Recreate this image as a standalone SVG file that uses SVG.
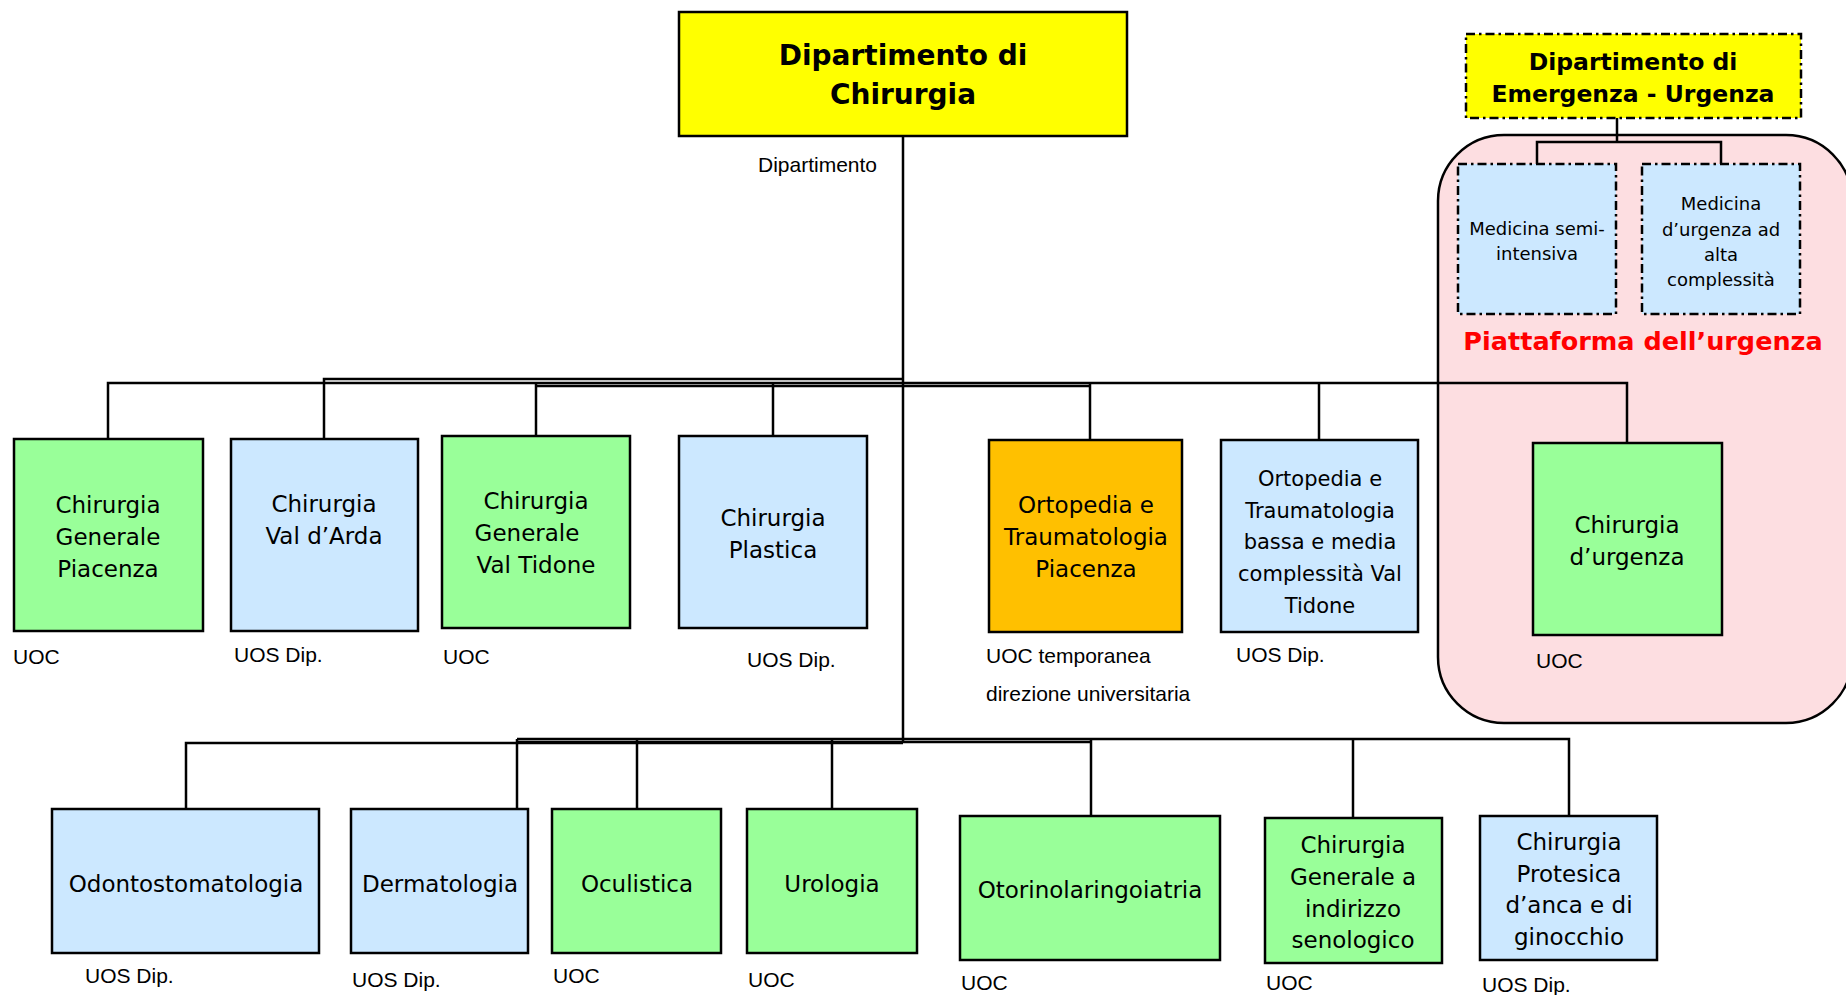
<svg xmlns="http://www.w3.org/2000/svg" width="1846" height="995" viewBox="0 0 1846 995">
<style>
.box{stroke:#000;stroke-width:2.5}
.g{fill:#99FF99}.b{fill:#CCE8FF}.o{fill:#FFC000}.y{fill:#FFFF00}
.dd{stroke-dasharray:9,4,2.5,4}
.t{font-family:"DejaVu Sans",Verdana,sans-serif;font-size:23px;text-anchor:middle;fill:#000}
.s{font-size:21px}
.m{font-size:18px}
.tb{font-family:"DejaVu Sans",Verdana,sans-serif;font-weight:bold;text-anchor:middle;fill:#000}
.lbl{font-family:"Liberation Sans",Arial,sans-serif;font-size:21px;fill:#000}
.con{fill:none;stroke:#000;stroke-width:2.5}
</style>
<rect id="piattaforma-bg" x="1438" y="135" width="414" height="588" rx="66" ry="66" fill="#FDDEE1" stroke="#000" stroke-width="2.5"/>
<g id="connectors" class="con">
<path d="M903,136 V743"/>
<path d="M903,379 H324 V439"/>
<path d="M108,439 V383 H1627 V443"/>
<path d="M536,386 H1090"/>
<path d="M536,383 V436"/>
<path d="M773,383 V436"/>
<path d="M1090,383 V440"/>
<path d="M1319,383 V440"/>
<path d="M186,809 V743 H903"/>
<path d="M517,739 H1569 V816"/>
<path d="M517,742 H1091"/>
<path d="M517,739 V809"/>
<path d="M637,739 V809"/>
<path d="M832,739 V809"/>
<path d="M1091,739 V816"/>
<path d="M1353,739 V818"/>
<path d="M1617,118 V142 M1537,164 V142 H1721 V164"/>
</g>
<g id="dip-chirurgia">
<rect class="box y" x="679" y="12" width="448" height="124"/>
<text class="tb" x="903" y="65" font-size="28">Dipartimento di</text>
<text class="tb" x="903" y="104" font-size="28">Chirurgia</text>
<text class="lbl" x="758" y="172">Dipartimento</text>
</g>
<g id="dip-emergenza">
<rect class="box y dd" x="1466" y="34" width="335" height="84"/>
<text class="tb" x="1633" y="70" font-size="23.5">Dipartimento di</text>
<text class="tb" x="1633" y="102" font-size="23.5">Emergenza - Urgenza</text>
</g>
<g id="med-semi">
<rect class="box b dd" x="1458" y="164" width="158" height="150"/>
<text class="t m" x="1537" y="235">Medicina semi-</text>
<text class="t m" x="1537" y="260">intensiva</text>
</g>
<g id="med-urgenza">
<rect class="box b dd" x="1642" y="164" width="158" height="150"/>
<text class="t m" x="1721" y="210">Medicina</text>
<text class="t m" x="1721" y="236">d’urgenza ad</text>
<text class="t m" x="1721" y="261">alta</text>
<text class="t m" x="1721" y="286">complessità</text>
</g>
<text id="piattaforma-label" class="tb" x="1643" y="350" font-size="25.5" fill="#FF0000" style="fill:#FF0000">Piattaforma dell’urgenza</text>
<g id="cg-piacenza">
<rect class="box g" x="14" y="439" width="189" height="192"/>
<text class="t" x="108" y="513">Chirurgia</text>
<text class="t" x="108" y="545">Generale</text>
<text class="t" x="108" y="577">Piacenza</text>
<text class="lbl" x="13" y="664">UOC</text>
</g>
<g id="c-valdarda">
<rect class="box b" x="231" y="439" width="187" height="192"/>
<text class="t" x="324" y="512">Chirurgia</text>
<text class="t" x="324" y="544">Val d’Arda</text>
<text class="lbl" x="234" y="662">UOS Dip.</text>
</g>
<g id="cg-valtidone">
<rect class="box g" x="442" y="436" width="188" height="192"/>
<text class="t" x="536" y="509">Chirurgia</text>
<text class="t" x="527" y="541">Generale</text>
<text class="t" x="536" y="573">Val Tidone</text>
<text class="lbl" x="443" y="664">UOC</text>
</g>
<g id="c-plastica">
<rect class="box b" x="679" y="436" width="188" height="192"/>
<text class="t" x="773" y="526">Chirurgia</text>
<text class="t" x="773" y="558">Plastica</text>
<text class="lbl" x="747" y="667">UOS Dip.</text>
</g>
<g id="ortopedia-piacenza">
<rect class="box o" x="989" y="440" width="193" height="192"/>
<text class="t" x="1086" y="513">Ortopedia e</text>
<text class="t" x="1086" y="545">Traumatologia</text>
<text class="t" x="1086" y="577">Piacenza</text>
<text class="lbl" x="986" y="663">UOC temporanea</text>
<text class="lbl" x="986" y="701">direzione universitaria</text>
</g>
<g id="ortopedia-valtidone">
<rect class="box b" x="1221" y="440" width="197" height="192"/>
<text class="t s" x="1320" y="486">Ortopedia e</text>
<text class="t s" x="1320" y="518">Traumatologia</text>
<text class="t s" x="1320" y="549">bassa e media</text>
<text class="t s" x="1320" y="581">complessità Val</text>
<text class="t s" x="1320" y="613">Tidone</text>
<text class="lbl" x="1236" y="662">UOS Dip.</text>
</g>
<g id="c-urgenza">
<rect class="box g" x="1533" y="443" width="189" height="192"/>
<text class="t" x="1627" y="533">Chirurgia</text>
<text class="t" x="1627" y="565">d’urgenza</text>
<text class="lbl" x="1536" y="668">UOC</text>
</g>
<g id="odontostomatologia">
<rect class="box b" x="52" y="809" width="267" height="144"/>
<text class="t" x="186" y="892">Odontostomatologia</text>
<text class="lbl" x="85" y="983">UOS Dip.</text>
</g>
<g id="dermatologia">
<rect class="box b" x="351" y="809" width="177" height="144"/>
<text class="t" x="440" y="892">Dermatologia</text>
<text class="lbl" x="352" y="987">UOS Dip.</text>
</g>
<g id="oculistica">
<rect class="box g" x="552" y="809" width="169" height="144"/>
<text class="t" x="637" y="892">Oculistica</text>
<text class="lbl" x="553" y="983">UOC</text>
</g>
<g id="urologia">
<rect class="box g" x="747" y="809" width="170" height="144"/>
<text class="t" x="832" y="892">Urologia</text>
<text class="lbl" x="748" y="987">UOC</text>
</g>
<g id="otorino">
<rect class="box g" x="960" y="816" width="260" height="144"/>
<text class="t" x="1090" y="898">Otorinolaringoiatria</text>
<text class="lbl" x="961" y="990">UOC</text>
</g>
<g id="cg-senologico">
<rect class="box g" x="1265" y="818" width="177" height="145"/>
<text class="t" x="1353" y="853">Chirurgia</text>
<text class="t" x="1353" y="885">Generale a</text>
<text class="t" x="1353" y="917">indirizzo</text>
<text class="t" x="1353" y="948">senologico</text>
<text class="lbl" x="1266" y="990">UOC</text>
</g>
<g id="c-protesica">
<rect class="box b" x="1480" y="816" width="177" height="144"/>
<text class="t" x="1569" y="850">Chirurgia</text>
<text class="t" x="1569" y="882">Protesica</text>
<text class="t" x="1569" y="913">d’anca e di</text>
<text class="t" x="1569" y="945">ginocchio</text>
<text class="lbl" x="1482" y="992">UOS Dip.</text>
</g>
</svg>
